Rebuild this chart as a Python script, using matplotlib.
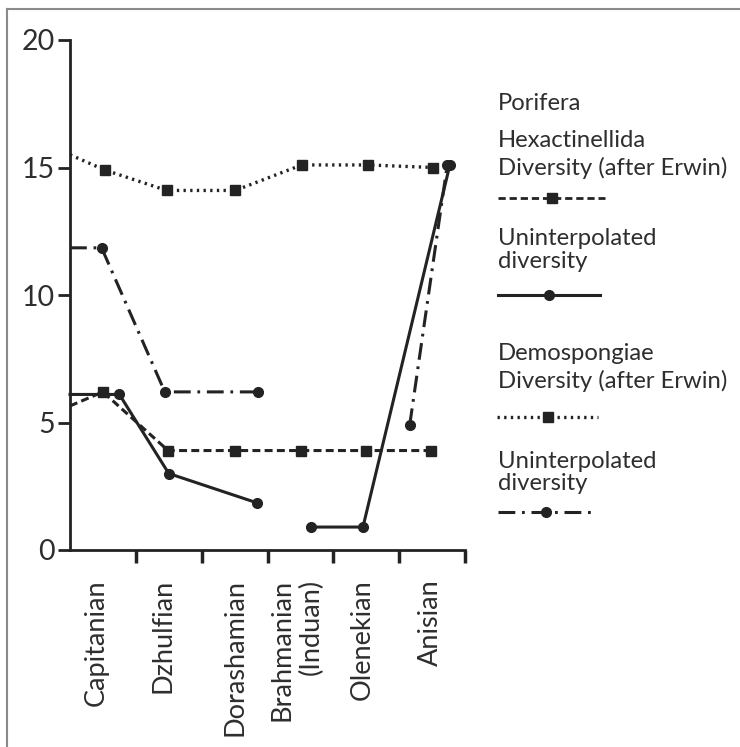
import matplotlib
matplotlib.use("Agg")
import matplotlib.pyplot as plt
from matplotlib.lines import Line2D
import numpy as np

plt.rcParams['font.family'] = ['Lato', 'DejaVu Sans']

# ---- data ----
stage_labels = ["Capitanian", "Dzhulfian", "Dorashamian", "Brahmanian\n(Induan)", "Olenekian", "Anisian"]
stage_bounds = [1, 2, 3, 4, 5, 6]
label_pos = [0.40, 1.41, 2.51, 3.44, 4.44, 5.47]
yticks = [0, 5, 10, 15, 20]

# Demospongiae, diversity after Erwin (dotted, squares); first value is the lead-in at the axis
demo_erwin_x = [0.0, 0.53, 1.47, 2.51, 3.52, 4.53, 5.52]
demo_erwin_y = [15.5, 14.9, 14.1, 14.1, 15.1, 15.1, 15.0]

# Hexactinellida, diversity after Erwin (dashed, squares)
hexa_erwin_x = [0.0, 0.50, 1.49, 2.51, 3.51, 4.50, 5.48]
hexa_erwin_y = [5.65, 6.2, 3.9, 3.9, 3.9, 3.9, 3.9]

# Hexactinellida, uninterpolated diversity (solid, circles)
hexa_unint_x = [0.0, 0.75, 1.50, 2.84, np.nan, 3.66, 4.45, 5.77]
hexa_unint_y = [6.1, 6.1, 3.0, 1.85, np.nan, 0.9, 0.9, 15.1]

# Demospongiae, uninterpolated diversity (dash-dot, circles)
demo_unint_x = [0.0, 0.48, 1.44, 2.86, np.nan, 5.16, 5.73]
demo_unint_y = [11.85, 11.85, 6.2, 6.2, np.nan, 4.9, 15.1]

# ---- styles ----
C = "#232323"
TXT = "#2e2e2e"
DOT = (0, (0.7, 1.3))
DASH = (0, (2.6, 1.4))
DASHDOT = (0, (5.5, 2.2, 0.9, 2.2))

fig = plt.figure(figsize=(7.40, 7.47), dpi=100)
ax = fig.add_axes([70/740, 1-550/747, (465-70)/740, (550-40)/747])
ax.set_xlim(0, 6)
ax.set_ylim(0, 20)

ax.plot(demo_erwin_x, demo_erwin_y, color=C, lw=2.4, ls=DOT, marker='s', ms=7.5,
        markevery=slice(1, None), zorder=3, clip_on=False)
ax.plot(hexa_erwin_x, hexa_erwin_y, color=C, lw=2.2, ls=DASH, marker='s', ms=7.5,
        markevery=slice(1, None), zorder=3, clip_on=False)
ax.plot(hexa_unint_x, hexa_unint_y, color=C, lw=2.2, ls='-', marker='o', ms=7,
        markevery=slice(1, None), zorder=4, clip_on=False)
ax.plot(demo_unint_x, demo_unint_y, color=C, lw=2.2, ls=DASHDOT, marker='o', ms=7,
        markevery=slice(1, None), zorder=4, clip_on=False)

for s in ['top', 'right']:
    ax.spines[s].set_visible(False)
for s in ['left', 'bottom']:
    ax.spines[s].set_linewidth(2.0)
    ax.spines[s].set_color(C)

ax.set_yticks(yticks)
ax.set_yticklabels([str(v) for v in yticks])
ax.tick_params(axis='y', direction='out', length=9, width=2, color=C,
               labelsize=20.5, labelcolor=TXT, pad=2)
ax.set_xticks(stage_bounds)
ax.set_xticklabels([])
ax.tick_params(axis='x', which='major', direction='out', length=9, width=2.5, color=C)
ax.set_xticks(label_pos, minor=True)
ax.set_xticklabels(stage_labels, minor=True, rotation=90, fontsize=19.5, color=TXT,
                   ha='center', va='top', multialignment='right')
ax.tick_params(axis='x', which='minor', length=0, pad=21)

# ---- legend (drawn by hand, like the original) ----
def fy(py):
    return 1 - py/747

def fx(px):
    return px/740

LX = 498
fs = 17.2
texts = [("Porifera", 110), ("Hexactinellida", 147), ("Diversity (after Erwin)", 175),
         ("Uninterpolated", 245), ("diversity", 268),
         ("Demospongiae", 360), ("Diversity (after Erwin)", 388),
         ("Uninterpolated", 468), ("diversity", 490)]
for t, py in texts:
    fig.text(fx(LX), fy(py), t, fontsize=fs, color=TXT, ha='left', va='baseline')

leg = [(198, 498, 605, DASH, 's', 2.0), (295, 498, 600, '-', 'o', 2.2),
       (417, 497, 598, DOT, 's', 2.4), (512, 498, 594, DASHDOT, 'o', 2.2)]
for py, x0, x1, ls, mk, lw in leg:
    xm = (x0 + x1) / 2
    fig.add_artist(Line2D([fx(x0), fx(xm), fx(x1)], [fy(py)]*3, color=C, lw=lw, ls=ls,
                          marker=mk, ms=7, markevery=[1]))

# outer frame
fig.add_artist(Line2D([fx(7), fx(7)], [0, fy(9)], color="#8a8a8a", lw=1.5))
fig.add_artist(Line2D([fx(7), 1], [fy(9), fy(9)], color="#8a8a8a", lw=1.5))

fig.savefig("out.png", dpi=100, facecolor='white')
